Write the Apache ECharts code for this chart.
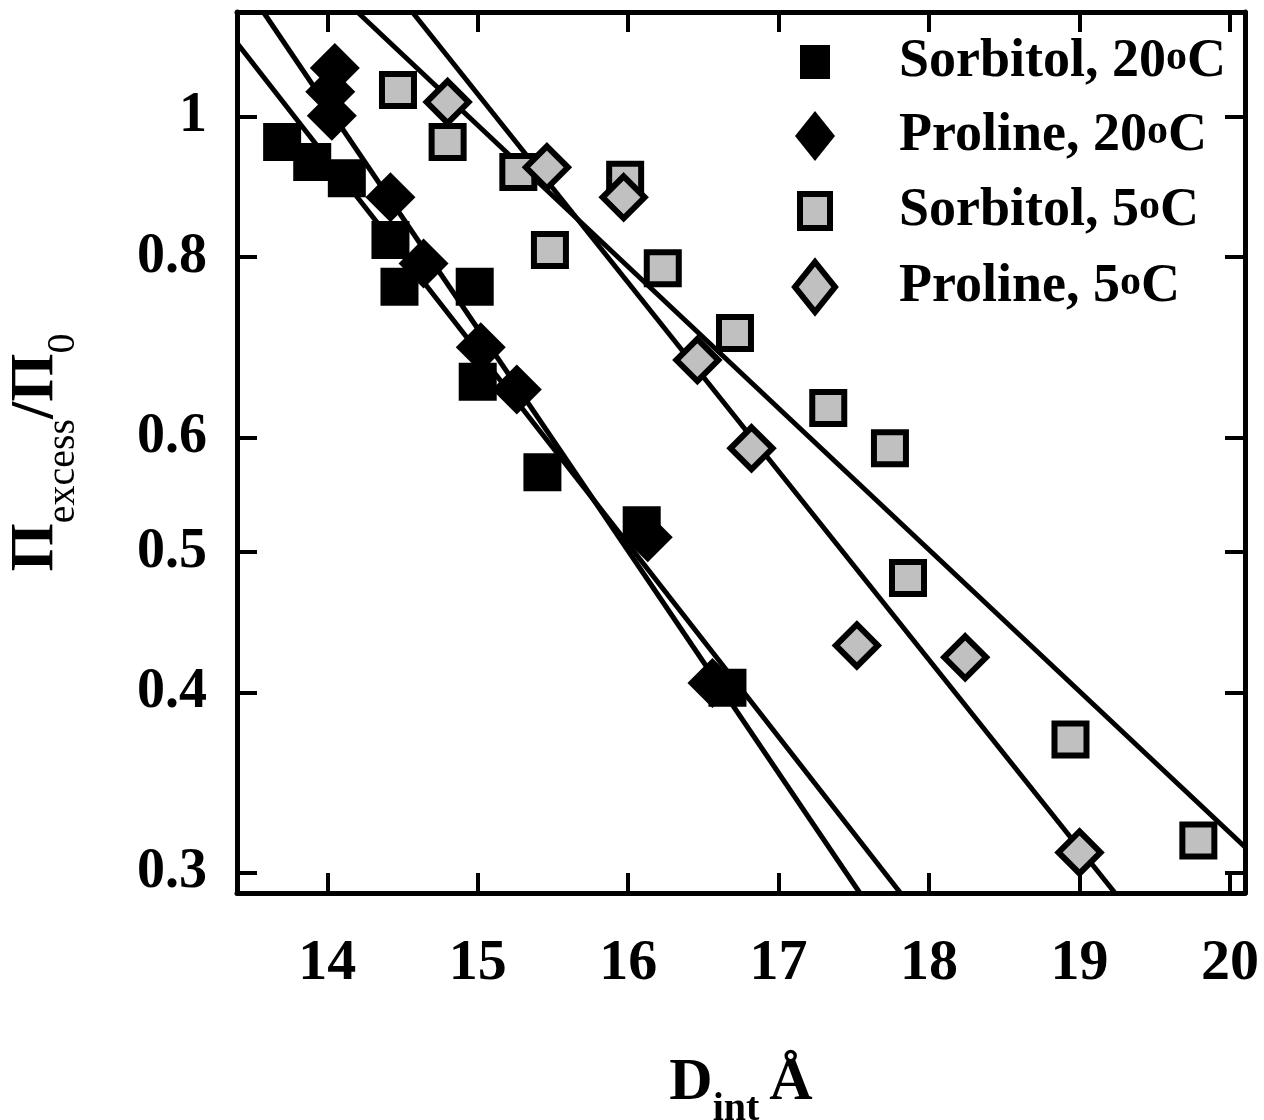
<!DOCTYPE html>
<html>
<head>
    <meta charset="UTF-8">
    <title>Pi excess vs D int</title>
    <script src="https://cdn.jsdelivr.net/npm/echarts@6.0.0/dist/echarts.min.js"></script>
    <style>
        html, body {margin: 0; padding: 0; background: #fff;}
        #chart {width: 1264px; height: 1120px;}
    </style>
</head>
<body>

<div id="chart"></div>

<script>
    // data: [D_int, Pi_excess/Pi_0]
    var sorbitol20 = [
        [13.70, 0.961], [13.90, 0.931], [14.13, 0.907], [14.42, 0.822], [14.48, 0.763],
        [14.98, 0.763], [15.00, 0.656], [15.43, 0.568], [16.09, 0.522], [16.66, 0.403]
    ];
    var proline20 = [
        [14.05, 1.081], [14.02, 1.041], [14.03, 1.002], [14.42, 0.880], [14.64, 0.792],
        [15.02, 0.693], [15.26, 0.648], [16.13, 0.512], [16.56, 0.406]
    ];
    var sorbitol5 = [
        [14.47, 1.044], [14.80, 0.961], [15.27, 0.916], [15.48, 0.809], [15.98, 0.905],
        [16.23, 0.786], [16.71, 0.709], [17.33, 0.629], [17.74, 0.590], [17.86, 0.480],
        [18.94, 0.371], [19.79, 0.316]
    ];
    var proline5 = [
        [14.80, 1.024], [15.46, 0.923], [15.97, 0.880], [16.46, 0.679], [16.82, 0.590],
        [17.52, 0.431], [18.24, 0.423], [19.00, 0.310]
    ];

    // fit lines, end points
    var fitSorbitol20 = [[13.40, 1.125], [17.81, 0.2906]];
    var fitProline20 = [[13.575, 1.182], [17.54, 0.2906]];
    var fitProline5 = [[14.565, 1.182], [19.236, 0.2906]];
    var fitSorbitol5 = [[14.20, 1.182], [20.10, 0.3127]];

    var xTicks = [14, 15, 16, 17, 18, 19, 20];
    var yTicks = [0.3, 0.4, 0.5, 0.6, 0.8, 1];

    var names = ['Sorbitol, 20oC', 'Proline, 20oC', 'Sorbitol, 5oC', 'Proline, 5oC'];

    var font = 'Liberation Serif';
    var grey = '#c0c0c0';

    // legend icons: padded so squares and diamonds share one box
    var sqIcon = 'path://M0,0L0,0M5,8L35,8L35,42L5,42ZM40,50L40,50';
    var dmIcon = 'path://M20,0L40,25L20,50L0,25Z';

    function xAxisOpt(pos, showLabel) {
        return {
            type: 'value',
            position: pos,
            min: 13.4,
            max: 20.1,
            splitLine: {show: false},
            axisLine: {onZero: false, lineStyle: {color: '#000', width: 5}},
            axisTick: {inside: true, length: 20, customValues: xTicks, lineStyle: {color: '#000', width: 4}},
            axisLabel: {
                show: showLabel, customValues: xTicks, margin: 42,
                color: '#000', fontFamily: font, fontWeight: 'bold', fontSize: 58
            }
        };
    }

    function yAxisOpt(pos, showLabel) {
        return {
            type: 'log',
            logBase: 10,
            position: pos,
            min: 0.2906,
            max: 1.182,
            splitLine: {show: false},
            minorTick: {show: false},
            axisLine: {onZero: false, lineStyle: {color: '#000', width: 5}},
            axisTick: {inside: true, length: 20, customValues: yTicks, lineStyle: {color: '#000', width: 4}},
            axisLabel: {
                show: showLabel, customValues: yTicks, margin: 30,
                color: '#000', fontFamily: font, fontWeight: 'bold', fontSize: 56,
                formatter: function (v) { return String(+v.toFixed(2)); }
            }
        };
    }

    function fitLine(d) {
        return {
            type: 'line',
            data: d,
            symbol: 'none',
            silent: true,
            z: 1,
            lineStyle: {color: '#000', width: 5}
        };
    }

    var chart = echarts.init(document.getElementById('chart'));

    // subscripts: tall line box, big glyphs at top, small ones at bottom
    var xMain = xAxisOpt('bottom', true);
    xMain.name = '{d|D}{s|int}{a|Å}';
    xMain.nameLocation = 'middle';
    xMain.nameGap = 160;
    xMain.nameTextStyle = {
        rich: {
            d: {fontFamily: font, fontWeight: 'bold', fontSize: 60, color: '#000', lineHeight: 77, verticalAlign: 'top'},
            a: {fontFamily: font, fontWeight: 'bold', fontSize: 60, color: '#000', lineHeight: 77, verticalAlign: 'top', padding: [0, 0, 0, 10]},
            s: {fontFamily: font, fontWeight: 'bold', fontSize: 40, color: '#000', lineHeight: 18, verticalAlign: 'bottom'}
        }
    };

    var yMain = yAxisOpt('left', true);
    yMain.name = '{p|Π}{s|excess}{p|/Π}{s|0}';
    yMain.nameLocation = 'middle';
    yMain.nameGap = 154;
    yMain.nameRotate = 90;
    yMain.nameTextStyle = {
        rich: {
            p: {fontFamily: font, fontWeight: 'bold', fontSize: 62, color: '#000', lineHeight: 78, verticalAlign: 'top'},
            s: {fontFamily: font, fontSize: 40, color: '#000', lineHeight: 16, verticalAlign: 'bottom'}
        }
    };

    var option = {
        backgroundColor: '#fff',
        animation: false,
        grid: {left: 237, right: 19, top: 12, bottom: 227, containLabel: false, outerBoundsMode: 'none'},
        xAxis: [xMain, xAxisOpt('top', false)],
        yAxis: [yMain, yAxisOpt('right', false)],
        legend: {
            orient: 'vertical',
            left: 787,
            top: 30,
            itemWidth: 40,
            itemHeight: 50,
            itemGap: 20,
            formatter: function (name) { return name.replace('oC', '{o|o}C'); },
            textStyle: {
                color: '#000', fontFamily: font, fontWeight: 'bold', fontSize: 54,
                lineHeight: 50, padding: [0, 0, 0, 59],
                rich: {
                    o: {color: '#000', fontFamily: font, fontWeight: 'bold', fontSize: 42, lineHeight: 42, verticalAlign: 'top'}
                }
            },
            data: [
                {name: names[0], icon: sqIcon, itemStyle: {color: '#000', borderColor: '#000', borderWidth: 0}},
                {name: names[1], icon: dmIcon, itemStyle: {color: '#000', borderColor: '#000', borderWidth: 0}},
                {name: names[2], icon: sqIcon, itemStyle: {color: grey, borderColor: '#000', borderWidth: 6}},
                {name: names[3], icon: dmIcon, itemStyle: {color: grey, borderColor: '#000', borderWidth: 6}}
            ]
        },
        series: [
            fitLine(fitSorbitol20),
            fitLine(fitProline20),
            fitLine(fitProline5),
            fitLine(fitSorbitol5),
            {
                name: names[0], type: 'scatter', data: sorbitol20, z: 3,
                symbol: 'rect', symbolSize: 38,
                itemStyle: {color: '#000', opacity: 1}
            },
            {
                name: names[1], type: 'scatter', data: proline20, z: 3,
                symbol: 'diamond', symbolSize: 50,
                itemStyle: {color: '#000', opacity: 1}
            },
            {
                name: names[2], type: 'scatter', data: sorbitol5, z: 3,
                symbol: 'rect', symbolSize: 32,
                itemStyle: {color: grey, borderColor: '#000', borderWidth: 6, opacity: 1}
            },
            {
                name: names[3], type: 'scatter', data: proline5, z: 3,
                symbol: 'diamond', symbolSize: 42,
                itemStyle: {color: grey, borderColor: '#000', borderWidth: 6, opacity: 1}
            }
        ]
    };

    chart.setOption(option);
</script>

</body>
</html>
